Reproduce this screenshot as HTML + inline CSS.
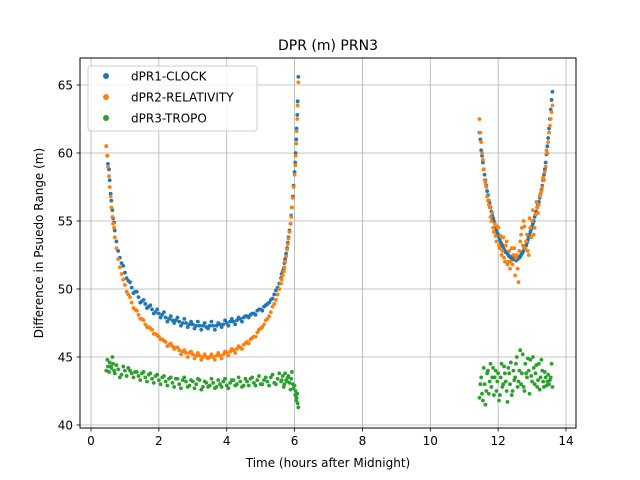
<!DOCTYPE html>
<html><head><meta charset="utf-8"><style>
html,body{margin:0;padding:0;background:#fff;}
svg{display:block;font-family:"DejaVu Sans","Liberation Sans",sans-serif;}
</style></head><body>
<svg id="chart" width="640" height="480" viewBox="0 0 640 480">
<rect width="640" height="480" fill="#fff"/>
<g id="grid"></g>
<g id="marks"></g>
<rect x="80" y="58" width="496" height="370" fill="none" stroke="#000" stroke-width="1"/>
<g id="ticks"></g>
<text x="328" y="50" text-anchor="middle" font-size="14">DPR (m) PRN3</text>
<text x="328" y="467" text-anchor="middle" font-size="12">Time (hours after Midnight)</text>
<text transform="translate(43,243) rotate(-90)" text-anchor="middle" font-size="12">Difference in Psuedo Range (m)</text>
<g>
<rect x="88" y="66" width="169" height="65" rx="3" fill="#fff" fill-opacity="0.8" stroke="#ccc"/>
<circle cx="106" cy="76" r="3" fill="#1f77b4"/>
<text x="131" y="80.5" font-size="12">dPR1-CLOCK</text>
<circle cx="106" cy="97" r="3" fill="#ff7f0e"/>
<text x="131" y="101.5" font-size="12">dPR2-RELATIVITY</text>
<circle cx="106" cy="118" r="3" fill="#2ca02c"/>
<text x="131" y="122.5" font-size="12">dPR3-TROPO</text>
</g>
</svg>
<script>
const xTicks=[0,2,4,6,8,10,12,14];
const yTicks=[40,45,50,55,60,65];
const t1=[0.45,0.5,0.55,0.6,0.65,0.7,0.8,0.9,1.0,1.1,1.2,1.3,1.4,1.5,1.6,1.7,1.8,1.9,2.0,2.1,2.2,2.3,2.4,2.5,2.6,2.7,2.8,2.9,3.0,3.1,3.2,3.3,3.4,3.5,3.6,3.7,3.8,3.9,4.0,4.1,4.2,4.3,4.4,4.5,4.6,4.7,4.8,4.9,5.0,5.1,5.2,5.3,5.4,5.5,5.6,5.65,5.7,5.75,5.8,5.85,5.9,5.95,6.0,6.03,6.06,6.09,6.11];
const clock1=[60.5,59.2,58,56.5,55.2,54.3,52.8,51.9,51.2,50.6,50.1,49.8,49.4,49.1,48.9,48.7,48.5,48.3,48.2,48.1,47.9,47.8,47.7,47.7,47.6,47.5,47.5,47.4,47.4,47.3,47.3,47.3,47.2,47.3,47.3,47.3,47.4,47.4,47.5,47.6,47.6,47.7,47.8,47.9,48.0,48.1,48.2,48.4,48.5,48.7,48.9,49.2,49.6,50.1,50.8,51.3,51.9,52.6,53.4,54.3,55.4,56.8,58.6,60.0,61.8,63.8,65.6];
const rel1=[60.5,59,57.5,56,54.8,53.8,52.2,51.1,50.3,49.6,49.0,48.5,48.1,47.8,47.4,47.2,47.0,46.7,46.5,46.3,46.1,45.9,45.8,45.7,45.5,45.4,45.3,45.3,45.2,45.1,45.1,45.0,45.0,45.0,45.0,45.1,45.1,45.2,45.3,45.4,45.5,45.6,45.7,45.9,46.1,46.3,46.5,46.8,47.1,47.4,47.8,48.3,48.9,49.6,50.4,51.0,51.6,52.4,53.3,54.2,55.3,56.7,58.4,59.8,61.6,63.5,65.2];
const tropo1=[44.0,44.3,44.6,44.2,44.5,43.8,44.1,43.7,44.0,44.2,43.8,43.9,43.6,43.8,43.5,43.7,43.4,43.6,43.3,43.5,43.2,43.4,43.1,43.4,43.0,43.3,43.2,42.9,43.2,43.0,43.3,42.8,43.1,42.9,43.1,42.8,43.0,43.2,42.9,43.1,43.3,43.0,43.2,42.9,43.2,43.4,43.1,43.3,43.0,43.3,43.2,43.5,43.1,43.4,43.2,43.6,43.0,43.3,43.5,43.1,43.4,43.0,42.9,42.5,42.0,41.6,41.3];
const t1b=[0.48,0.53,0.58,0.63,0.68,0.75,0.85,0.95,1.05,1.15,1.25,1.35,1.45,1.55,1.65,1.75,1.85,1.95,2.05,2.15,2.25,2.35,2.45,2.55,2.65,2.75,2.85,2.95,3.05,3.15,3.25,3.35,3.45,3.55,3.65,3.75,3.85,3.95,4.05,4.15,4.25,4.35,4.45,4.55,4.65,4.75,4.85,4.95,5.05,5.15,5.25,5.35,5.45,5.55,5.62,5.68,5.72,5.78,5.82,5.88,5.92,5.97,6.02,6.05,6.08];
const clock1b=[59.8,58.8,57.0,55.8,54.9,53.5,52.3,51.7,50.8,50.5,49.7,49.8,49.0,49.2,48.6,48.8,48.2,48.5,47.9,48.3,47.6,48.0,47.5,47.9,47.3,47.8,47.2,47.6,47.1,47.6,47.0,47.5,47.1,47.6,47.0,47.5,47.2,47.7,47.3,47.8,47.4,47.9,47.6,48.0,47.9,48.2,48.1,48.5,48.4,48.8,49.0,49.3,49.9,50.4,51.1,51.5,52.2,53.0,53.8,54.8,56.0,57.6,59.3,61.0,62.8];
const rel1b=[59.8,58.3,56.8,55.3,54.5,53.0,51.6,50.7,49.8,49.4,48.6,48.4,47.8,47.7,47.2,47.1,46.7,46.6,46.3,46.2,45.8,46.0,45.6,45.7,45.2,45.5,45.0,45.4,44.9,45.3,44.8,45.2,44.9,45.2,44.8,45.3,44.9,45.4,45.1,45.6,45.3,45.8,45.6,46.0,46.0,46.4,46.5,47.0,47.2,47.7,48.0,48.7,49.2,50.0,50.7,51.3,52.0,52.9,53.7,54.8,56.0,57.5,59.1,60.7,62.5];
const tropo1b=[44.8,43.9,44.3,45.0,44.0,44.4,43.5,44.3,43.6,44.0,43.5,43.9,43.3,43.9,43.2,43.8,43.1,43.7,43.0,43.6,42.9,43.5,42.8,43.4,42.7,43.5,42.8,43.3,42.7,43.4,42.6,43.2,42.8,43.4,42.7,43.3,42.8,43.4,42.7,43.3,42.9,43.5,42.8,43.4,42.9,43.5,42.9,43.6,43.0,43.5,42.9,43.7,43.0,43.8,43.3,42.8,43.8,43.2,43.6,42.6,43.9,42.7,42.2,41.8,42.3];
const t2=[11.45,11.5,11.55,11.6,11.65,11.7,11.75,11.8,11.85,11.9,11.95,12.0,12.05,12.1,12.15,12.2,12.25,12.3,12.35,12.4,12.45,12.5,12.55,12.6,12.65,12.7,12.75,12.8,12.85,12.9,12.95,13.0,13.05,13.1,13.15,13.2,13.25,13.3,13.35,13.4,13.45,13.5,13.55,13.6];
const clock2=[61.5,60.2,59.3,58.4,57.6,56.9,56.3,55.7,55.2,54.8,54.3,54.0,53.6,53.3,53.1,52.8,52.7,52.5,52.4,52.3,52.3,52.2,52.2,52.3,52.4,52.6,52.8,53.1,53.4,53.8,54.2,54.6,55.0,55.5,56.0,56.4,57.0,57.6,58.4,59.3,60.5,61.8,63.2,64.5];
const rel2=[62.5,60.8,59.5,58.0,57.5,56.5,56.0,55.0,54.5,54.8,53.5,54.5,53.0,52.5,53.8,52.0,53.5,52.0,51.5,53.0,52.5,51.0,52.5,50.5,53.5,54.5,55.0,53.0,54.0,52.5,54.5,55.0,54.0,55.5,56.0,56.2,57.0,57.5,58.0,59.0,60.0,61.5,62.5,63.5];
const tropo2=[42.0,43.5,41.8,43.0,42.5,44.0,43.2,42.8,44.2,43.5,42.5,43.8,42.2,44.5,43.0,43.8,42.5,44.2,43.0,42.2,44.0,43.5,45.0,43.2,45.5,43.8,42.8,44.5,43.5,44.0,44.8,43.2,44.2,43.8,42.8,44.5,43.5,44.0,42.8,43.5,43.2,43.0,43.5,42.8];
const t2b=[11.475,11.525,11.575,11.625,11.675,11.725,11.775,11.825,11.875,11.925,11.975,12.025,12.075,12.125,12.175,12.225,12.275,12.325,12.375,12.425,12.475,12.525,12.575,12.625,12.675,12.725,12.775,12.825,12.875,12.925,12.975,13.025,13.075,13.125,13.175,13.225,13.275,13.325,13.375,13.425,13.475,13.525,13.575];
const clock2b=[61.0,59.8,58.8,58.0,57.2,56.5,56.0,55.4,55.0,54.5,54.1,53.8,53.4,53.2,52.9,52.7,52.6,52.4,52.3,52.2,52.2,52.1,52.2,52.3,52.5,52.7,53.0,53.2,53.6,54.0,54.4,54.8,55.3,55.7,56.2,56.7,57.3,58.0,58.8,59.9,61.1,62.5,63.9];
const rel2b=[61.5,60.0,58.8,57.8,56.8,56.2,55.3,55.6,54.2,53.9,54.6,53.2,53.9,52.8,52.3,53.2,51.8,52.8,52.0,51.8,53.0,52.3,51.5,52.8,54.0,53.2,54.6,53.5,52.8,55.2,53.8,55.8,54.5,56.4,55.6,56.8,57.2,58.2,58.6,60.2,60.8,62.0,63.0];
const tropo2b=[43.0,42.3,44.2,41.5,43.8,42.3,44.5,43.5,42.2,44.0,43.2,41.8,43.5,42.8,44.3,43.2,41.7,43.8,44.6,42.5,43.3,44.5,42.8,44.0,43.0,45.2,42.5,43.8,44.9,42.3,43.6,45.0,43.0,44.4,43.3,42.6,44.8,43.2,43.9,42.9,43.7,43.3,44.5];

const NS='http://www.w3.org/2000/svg';
function xs(v){return 91+v*(566-91)/14;}
function ys(v){return 425-(v-40)*13.6;}
const grid=document.getElementById('grid'),ticks=document.getElementById('ticks'),marks=document.getElementById('marks');
function mk(tag,attrs,parent){const e=document.createElementNS(NS,tag);for(const k in attrs)e.setAttribute(k,attrs[k]);parent.appendChild(e);return e;}
xTicks.forEach(v=>{const x=xs(v);
 const g=mk('line',{x1:x,x2:x,y1:58,y2:428,stroke:'#b0b0b0','stroke-width':0.8},grid);
 
 
 const t=mk('line',{x1:x,x2:x,y1:428,y2:431.5,stroke:'#000','stroke-width':0.8},ticks);
 
 
 const l=mk('text',{x:x,y:445,'text-anchor':'middle','font-size':12},ticks);l.textContent=v;
 
 
});
yTicks.forEach(v=>{const y=ys(v);
 const g=mk('line',{x1:80,x2:576,y1:y,y2:y,stroke:'#b0b0b0','stroke-width':0.8},grid);
 
 
 const t=mk('line',{x1:76.5,x2:80,y1:y,y2:y,stroke:'#000','stroke-width':0.8},ticks);
 
 
 const l=mk('text',{x:73,y:y+4.5,'text-anchor':'end','font-size':12},ticks);l.textContent=v;
 
 
});
function series(ts,vals,color,name){ts.forEach((t,i)=>{if(vals[i]==null)return;
 const c=mk('circle',{cx:xs(t),cy:ys(vals[i]),r:1.9,fill:color},marks);
 
 
});}
series(t1,clock1,'#1f77b4','clock-point');
series(t1b,clock1b,'#1f77b4','clock-point');
series(t2,clock2,'#1f77b4','clock-point');
series(t2b,clock2b,'#1f77b4','clock-point');
series(t1,rel1,'#ff7f0e','relativity-point');
series(t1b,rel1b,'#ff7f0e','relativity-point');
series(t2,rel2,'#ff7f0e','relativity-point');
series(t2b,rel2b,'#ff7f0e','relativity-point');
series(t1,tropo1,'#2ca02c','tropo-point');
series(t1b,tropo1b,'#2ca02c','tropo-point');
series(t2,tropo2,'#2ca02c','tropo-point');
series(t2b,tropo2b,'#2ca02c','tropo-point');
</script>
</body></html>
